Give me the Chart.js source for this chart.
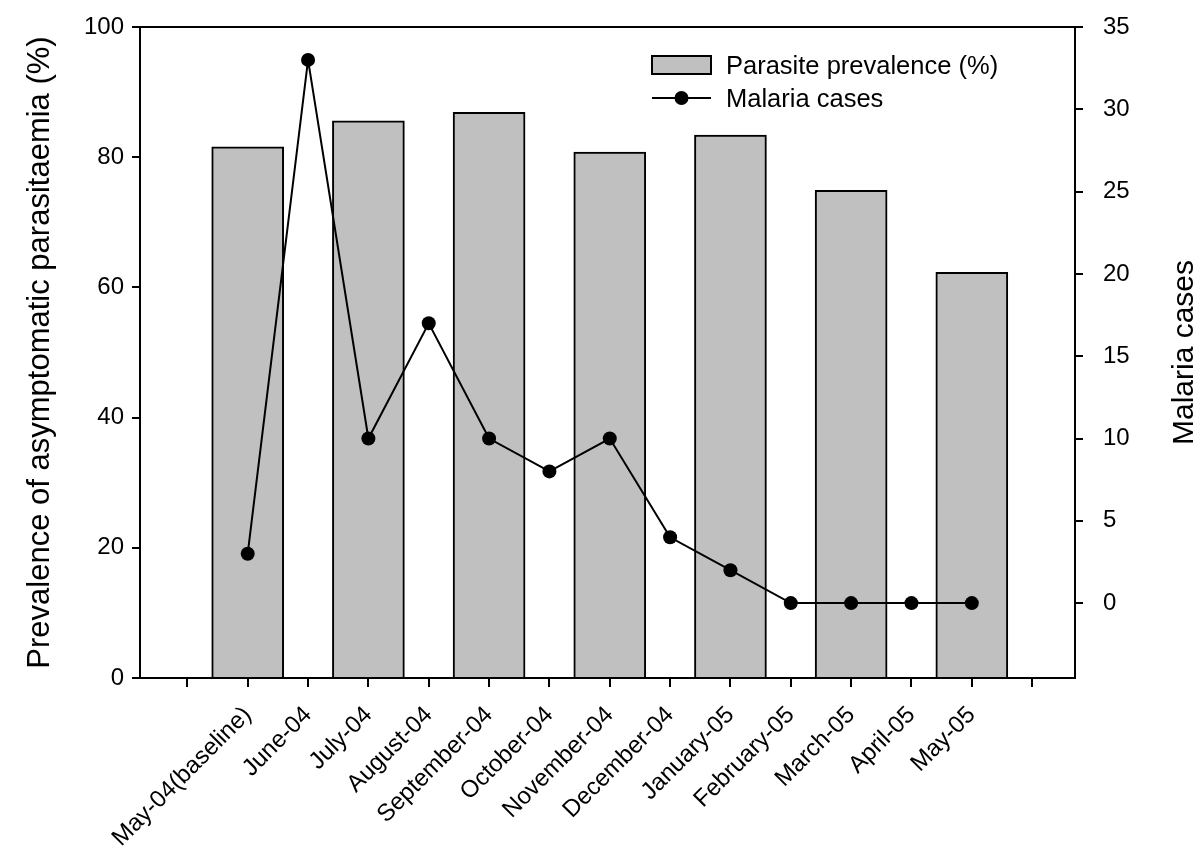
<!DOCTYPE html>
<html>
<head>
<meta charset="utf-8">
<script src="https://cdn.jsdelivr.net/npm/chart.js@4.4.0/dist/chart.umd.min.js"></script>
<style>
    html, body { margin: 0; padding: 0; background: #fff; }
    canvas { display: block; }
</style>
</head>
<body>
<canvas id="malaria-chart" width="1200" height="855"></canvas>
<script>
// data
const months = ['May-04(baseline)', 'June-04', 'July-04', 'August-04', 'September-04', 'October-04',
    'November-04', 'December-04', 'January-05', 'February-05', 'March-05', 'April-05', 'May-05'];
const prevalence = [81.6, null, 85.6, null, 86.9, null, 80.8, null, 83.4, null, 74.9, null, 62.3];
const malariaCases = [3, 33, 10, 17, 10, 8, 10, 4, 2, 0, 0, 0, 0];
const prevalenceTicks = [0, 20, 40, 60, 80, 100];
const casesTicks = [0, 5, 10, 15, 20, 25, 30, 35];
const casesAxisMin = -4.55;

const FONT = "'Liberation Sans', Arial, Helvetica, sans-serif";
const BLACK = '#000';
const GREY = '#c0c0c0';

Chart.defaults.font.family = FONT;
Chart.defaults.color = BLACK;

const barPoints = prevalence
    .map((v, i) => ({ x: i, y: v }))
    .filter(p => p.y !== null);
const linePoints = malariaCases.map((v, i) => ({ x: i, y: v }));

const axisGrid = (len) => ({
    display: true,
    drawOnChartArea: false,
    drawTicks: true,
    tickLength: len,
    color: BLACK,
    lineWidth: 2,
    offset: false
});
const axisBorder = { display: true, color: BLACK, width: 2 };

// frame top, legend and the right-hand title (reads bottom to top)
const extras = {
    id: 'extras',
    afterDraw(chart) {
        const { ctx, chartArea } = chart;
        const bars = chart.data.datasets[1];
        const line = chart.data.datasets[0];
        ctx.save();

        ctx.strokeStyle = BLACK;
        ctx.lineWidth = 2;
        ctx.beginPath();
        ctx.moveTo(chartArea.left, chartArea.top);
        ctx.lineTo(chartArea.right, chartArea.top);
        ctx.stroke();

        // legend
        const lx = 652, boxW = 59;
        ctx.fillStyle = bars.backgroundColor;
        ctx.fillRect(lx, 56, boxW, 18);
        ctx.strokeStyle = bars.borderColor;
        ctx.lineWidth = 2;
        ctx.strokeRect(lx, 56, boxW, 18);

        ctx.strokeStyle = line.borderColor;
        ctx.beginPath();
        ctx.moveTo(lx, 98);
        ctx.lineTo(lx + boxW, 98);
        ctx.stroke();
        ctx.fillStyle = line.pointBackgroundColor;
        ctx.beginPath();
        ctx.arc(lx + boxW / 2, 98, line.pointRadius, 0, Math.PI * 2);
        ctx.fill();

        ctx.fillStyle = BLACK;
        ctx.font = `25.5px ${FONT}`;
        ctx.textAlign = 'left';
        ctx.textBaseline = 'alphabetic';
        ctx.fillText(bars.label, 726, 74);
        ctx.fillText(line.label, 726, 107);

        // right axis title
        ctx.font = `30px ${FONT}`;
        ctx.textAlign = 'center';
        ctx.textBaseline = 'middle';
        ctx.translate(1185, (chartArea.top + chartArea.bottom) / 2);
        ctx.rotate(-Math.PI / 2);
        ctx.fillText('Malaria cases', 0, 0);
        ctx.restore();
    }
};

const ctx = document.getElementById('malaria-chart').getContext('2d');
new Chart(ctx, {
    type: 'bar',
    data: {
        datasets: [{
            type: 'line',
            label: 'Malaria cases',
            data: linePoints,
            yAxisID: 'y1',
            borderColor: BLACK,
            borderWidth: 2,
            pointRadius: 7,
            pointBackgroundColor: BLACK,
            pointBorderColor: BLACK,
            pointBorderWidth: 0,
            tension: 0,
            order: 0
        }, {
            type: 'bar',
            label: 'Parasite prevalence (%)',
            data: barPoints,
            yAxisID: 'y',
            backgroundColor: GREY,
            borderColor: BLACK,
            borderWidth: 2,
            barThickness: 72,
            order: 1
        }]
    },
    options: {
        responsive: false,
        animation: false,
        layout: { padding: { top: 27, left: 0, right: 0, bottom: 0 } },
        plugins: {
            legend: { display: false },
            tooltip: { enabled: false }
        },
        scales: {
            x: {
                type: 'linear',
                min: -1.785,
                max: 13.71,
                offset: false,
                grid: axisGrid(9),
                border: axisBorder,
                ticks: {
                    stepSize: 1,
                    includeBounds: false,
                    autoSkip: false,
                    maxRotation: 45,
                    minRotation: 45,
                    padding: 14,
                    font: { size: 24 },
                    callback: (v) => months[v] ?? ''
                },
                afterFit: (s) => { s.height = 177; }
            },
            y: {
                position: 'left',
                min: prevalenceTicks[0],
                max: prevalenceTicks[prevalenceTicks.length - 1],
                grid: axisGrid(8),
                border: axisBorder,
                ticks: {
                    stepSize: prevalenceTicks[1] - prevalenceTicks[0],
                    padding: 8,
                    font: { size: 24 }
                },
                title: {
                    display: true,
                    text: 'Prevalence of asymptomatic parasitaemia (%)',
                    font: { size: 31 },
                    padding: { top: 22, bottom: 0 }
                },
                afterFit: (s) => { s.width = 140; s.paddingTop = 0; s.paddingBottom = 0; }
            },
            y1: {
                position: 'right',
                min: casesAxisMin,
                max: casesTicks[casesTicks.length - 1],
                grid: axisGrid(8),
                border: axisBorder,
                ticks: {
                    stepSize: casesTicks[1] - casesTicks[0],
                    includeBounds: false,
                    padding: 20,
                    font: { size: 24 }
                },
                afterFit: (s) => { s.width = 125; s.paddingTop = 0; s.paddingBottom = 0; }
            }
        }
    },
    plugins: [extras]
});
</script>
</body>
</html>
